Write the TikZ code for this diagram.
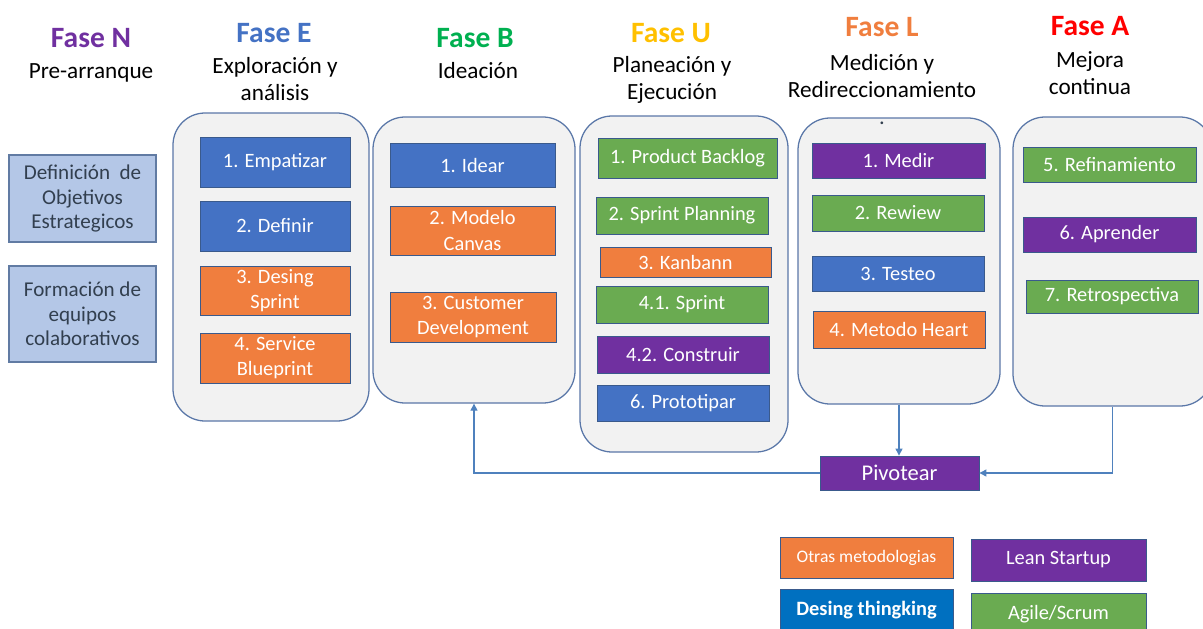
\documentclass[tikz,border=0pt]{standalone}
\usepackage{fontspec}
\setmainfont{Carlito}
\usetikzlibrary{arrows.meta}

\definecolor{azul}{HTML}{4472C4}
\definecolor{naranja}{HTML}{F07E3E}
\definecolor{verde}{HTML}{6AAB51}
\definecolor{morado}{HTML}{7030A0}
\definecolor{azulDT}{HTML}{0070C0}
\definecolor{verdeB}{HTML}{00B050}
\definecolor{oro}{HTML}{FFC000}
\definecolor{rojo}{HTML}{FF0000}
\definecolor{celeste}{HTML}{B4C7E7}
\definecolor{borde}{HTML}{3A5A8C}
\definecolor{bordefase}{HTML}{5A77A8}
\definecolor{gris}{HTML}{F2F2F2}
\definecolor{linea}{HTML}{4F81BD}
\definecolor{textoprevio}{HTML}{323F4F}

\tikzset{
        caja/.style={draw=borde, line width=0.6pt, text=white, align=center, inner sep=0pt,
                font=\fontsize{14.5pt}{17.8pt}\selectfont},
        fase/.style={draw=bordefase, fill=gris, line width=0.9pt, rounded corners=0.8cm, inner sep=0pt},
        previa/.style={draw=borde!80, fill=celeste, line width=0.8pt, text=textoprevio, align=center,
                inner sep=0pt, font=\fontsize{15pt}{17.5pt}\selectfont},
        titulo/.style={anchor=base, font=\fontsize{21pt}{25pt}\selectfont\bfseries},
        subtitulo/.style={anchor=base, align=center, font=\fontsize{16.5pt}{18.5pt}\selectfont},
        flecha/.style={draw=linea, line width=0.8pt, -{Triangle[length=5pt,width=5pt]}}
}

\begin{document}
\begin{tikzpicture}
        \clip (0,0) rectangle (30.075,-15.7);

        % Titulos de las fases
        \node[titulo, text=morado] (tN) at (2.275,-1.175) {Fase N};
        \node[subtitulo] (sN) at (2.275,-1.95) {Pre-arranque};
        \node[titulo, text=azul] (tE) at (6.85,-1.05) {Fase E};
        \node[subtitulo] (sE) at (6.875,-2.5) {Exploración y\\análisis};
        \node[titulo, text=verdeB] (tB) at (11.875,-1.175) {Fase B};
        \node[subtitulo] (sB) at (11.95,-1.95) {Ideación};
        \node[titulo, text=oro] (tU) at (16.775,-1.05) {Fase U};
        \node[subtitulo] (sU) at (16.8,-2.475) {Planeación y\\Ejecución};
        \node[titulo, text=naranja] (tL) at (22.05,-0.9) {Fase L};
        \node[subtitulo] (sL) at (22.05,-2.425) {Medición y\\Redireccionamiento};
        \node[titulo, text=rojo] (tA) at (27.25,-0.875) {Fase A};
        \node[subtitulo] (sA) at (27.25,-2.35) {Mejora\\continua};

        % Fase N
        \node[previa, minimum width=3.675cm, minimum height=2.175cm] (objetivos) at (2.0625,-4.9625)
                {Definición\ \ de\\Objetivos\\Estrategicos};
        \node[previa, minimum width=3.675cm, minimum height=2.4cm] (equipos) at (2.0625,-7.85)
                {Formación de\\equipos\\colaborativos};

        % Contenedores
        \node[fase, minimum width=4.9cm, minimum height=7.7cm] (faseE) at (6.775,-6.675) {};
        \node[fase, minimum width=5.05cm, minimum height=7.15cm] (faseB) at (11.85,-6.5) {};
        \node[fase, minimum width=5.2cm, minimum height=8.4cm] (faseU) at (17.1,-7.1) {};
        \node[fase, minimum width=5.05cm, minimum height=7.15cm] (faseL) at (22.475,-6.525) {};
        \node[fase, minimum width=4.975cm, minimum height=7.225cm] (faseA) at (27.8125,-6.5375) {};
        \node[anchor=base, font=\fontsize{16pt}{18pt}\selectfont, text=textoprevio] (punto) at (22.05,-3.1) {.};

        % Fase E
        \node[caja, fill=azul, minimum width=3.75cm, minimum height=1.25cm] (empatizar) at (6.875,-4.05) {1. Empatizar};
        \node[caja, fill=azul, minimum width=3.75cm, minimum height=1.25cm] (definir) at (6.875,-5.65) {2. Definir};
        \node[caja, fill=naranja, minimum width=3.75cm, minimum height=1.225cm] (dsprint) at (6.875,-7.2625) {3. Desing\\Sprint};
        \node[caja, fill=naranja, minimum width=3.75cm, minimum height=1.25cm] (blueprint) at (6.875,-8.95) {4. Service\\Blueprint};

        % Fase B
        \node[caja, fill=azul, minimum width=4.125cm, minimum height=1.1cm] (idear) at (11.8125,-4.125) {1. Idear};
        \node[caja, fill=naranja, minimum width=4.125cm, minimum height=1.225cm] (canvas) at (11.8125,-5.7625) {2. Modelo\\Canvas};
        \node[caja, fill=naranja, minimum width=4.15cm, minimum height=1.25cm] (customer) at (11.825,-7.925) {3. Customer\\Development};

        % Fase U
        \node[caja, fill=verde, minimum width=4.475cm, minimum height=1cm] (backlog) at (17.1875,-3.95) {1. Product Backlog};
        \node[caja, fill=verde, minimum width=4.3cm, minimum height=0.925cm] (planning) at (17.05,-5.3875) {2. Sprint Planning};
        \node[caja, fill=naranja, minimum width=4.275cm, minimum height=0.75cm] (kanbann) at (17.1375,-6.55) {3. Kanbann};
        \node[caja, fill=verde, minimum width=4.3cm, minimum height=0.925cm] (sprint) at (17.05,-7.6125) {4.1. Sprint};
        \node[caja, fill=morado, minimum width=4.3cm, minimum height=0.925cm] (construir) at (17.075,-8.8625) {4.2. Construir};
        \node[caja, fill=azul, minimum width=4.3cm, minimum height=0.9cm] (prototipar) at (17.075,-10.075) {6. Prototipar};

        % Fase L
        \node[caja, fill=morado, minimum width=4.325cm, minimum height=0.875cm] (medir) at (22.4625,-4.0125) {1. Medir};
        \node[caja, fill=verde, minimum width=4.3cm, minimum height=0.9cm] (rewiew) at (22.45,-5.325) {2. Rewiew};
        \node[caja, fill=azul, minimum width=4.3cm, minimum height=0.875cm] (testeo) at (22.45,-6.8375) {3. Testeo};
        \node[caja, fill=naranja, minimum width=4.3cm, minimum height=0.925cm] (heart) at (22.475,-8.2375) {4. Metodo Heart};

        % Fase A
        \node[caja, fill=verde, minimum width=4.325cm, minimum height=0.875cm] (refinamiento) at (27.7375,-4.1125) {5. Refinamiento};
        \node[caja, fill=morado, minimum width=4.325cm, minimum height=0.875cm] (aprender) at (27.7375,-5.8625) {6. Aprender};
        \node[caja, fill=verde, minimum width=4.3cm, minimum height=0.825cm] (retro) at (27.8,-7.4125) {7. Retrospectiva};

        % Pivotear y flechas
        \node[caja, fill=morado, minimum width=3.975cm, minimum height=0.85cm,
                font=\fontsize{16pt}{19pt}\selectfont] (pivotear) at (22.4875,-11.825) {Pivotear};
        \draw[flecha] (faseL.south) -- (faseL.south |- pivotear.north);
        \draw[flecha] (faseA.south) |- (pivotear.east);
        \draw[flecha] (pivotear.west) -| (faseB.south);

        % Leyenda
        \node[caja, fill=naranja, minimum width=4.325cm, minimum height=1.025cm,
                font=\fontsize{12.5pt}{15pt}\selectfont] (otras) at (21.6625,-13.9375) {Otras metodologias};
        \node[caja, fill=morado, minimum width=4.375cm, minimum height=1.05cm] (lean) at (26.4625,-14) {Lean Startup};
        \node[caja, fill=azulDT, minimum width=4.325cm, minimum height=1.05cm,
                font=\fontsize{14.5pt}{17pt}\selectfont\bfseries] (thinking) at (21.6625,-15.25) {Desing thingking};
        \node[caja, fill=verde, minimum width=4.375cm, minimum height=1.05cm] (agile) at (26.4625,-15.35) {Agile/Scrum};
\end{tikzpicture}
\end{document}
